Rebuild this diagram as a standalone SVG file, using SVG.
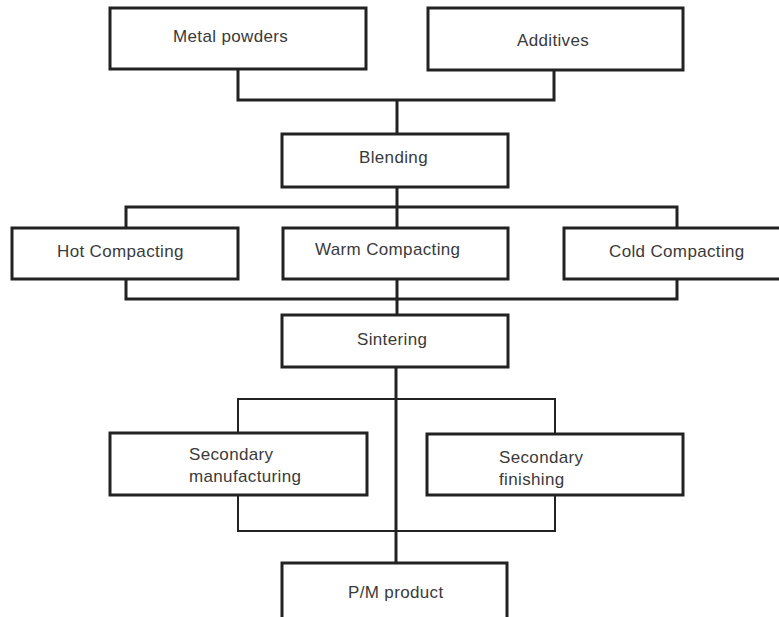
<svg xmlns="http://www.w3.org/2000/svg" width="779" height="617" viewBox="0 0 779 617">
<style>
.box{fill:#fff;stroke:#222;stroke-width:3}
.t{font-family:"Liberation Sans",Arial,sans-serif;font-size:17px;fill:#3a3a3a;letter-spacing:0.35px}
.c{fill:none;stroke:#222;stroke-width:3}
.c2{fill:none;stroke:#222;stroke-width:2}
</style>
<rect width="779" height="617" fill="#fff"/>
<g id="connectors">
<path class="c" d="M238 69V100H554V69M397 100V136"/>
<path class="c" d="M397 186V299M126 228V207H677V228M126 279V299H677V279M397 299V315"/>
<path class="c" d="M396 367V563"/>
<path class="c2" d="M238 433V399H555V433M238 495V531H555V495"/>
</g>
<g id="metal"><rect class="box" x="110" y="8" width="256" height="61"/><text class="t" x="173" y="42">Metal powders</text></g>
<g id="additives"><rect class="box" x="428" y="8" width="255" height="62"/><text class="t" x="517" y="46">Additives</text></g>
<g id="blending"><rect class="box" x="282" y="134" width="226" height="53"/><text class="t" x="359" y="163">Blending</text></g>
<g id="hot"><rect class="box" x="12" y="228" width="226" height="51"/><text class="t" x="57" y="257">Hot Compacting</text></g>
<g id="warm"><rect class="box" x="283" y="228" width="225" height="51"/><text class="t" x="315" y="255">Warm Compacting</text></g>
<g id="cold"><rect class="box" x="564" y="228" width="220" height="51"/><text class="t" x="609" y="257">Cold Compacting</text></g>
<g id="sintering"><rect class="box" x="282" y="315" width="226" height="52"/><text class="t" x="357" y="345">Sintering</text></g>
<g id="secman"><rect class="box" x="110" y="433" width="257" height="62"/><text class="t" x="189" y="460">Secondary</text><text class="t" x="189" y="482">manufacturing</text></g>
<g id="secfin"><rect class="box" x="427" y="434" width="256" height="61"/><text class="t" x="499" y="463">Secondary</text><text class="t" x="499" y="485">finishing</text></g>
<g id="pm"><rect class="box" x="282" y="563" width="225" height="58"/><text class="t" x="348" y="598">P/M product</text></g>
</svg>
